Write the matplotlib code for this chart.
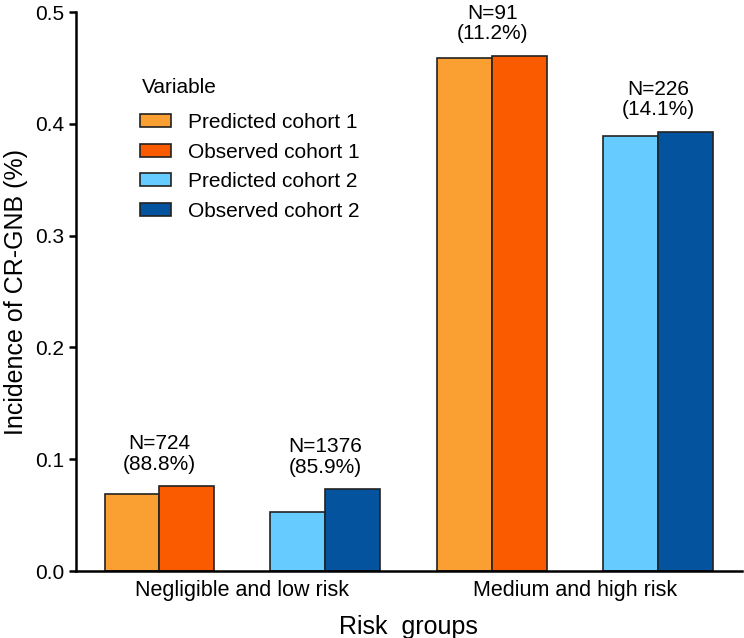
import matplotlib
matplotlib.use("Agg")
import matplotlib.pyplot as plt
import numpy as np

plt.rcParams['font.family'] = ['Liberation Sans', 'DejaVu Sans']

groups = ["Negligible and low risk", "Medium and high risk"]
series = ["Predicted cohort 1", "Observed cohort 1", "Predicted cohort 2", "Observed cohort 2"]
pred_c1 = [0.069, 0.459]
obs_c1 = [0.076, 0.461]
pred_c2 = [0.053, 0.389]
obs_c2 = [0.073, 0.393]
colors = ["#FA9F32", "#FA5A00", "#66CBFE", "#03539F"]
n_c1 = ["N=724\n(88.8%)", "N=91\n(11.2%)"]
n_c2 = ["N=1376\n(85.9%)", "N=226\n(14.1%)"]

fig = plt.figure(figsize=(7.44, 6.38), dpi=100)
ax = fig.add_axes([0.102, 0.105, 0.895, 0.876])

x = np.arange(len(groups))
w = 0.165
off = 0.249
vals = [pred_c1, obs_c1, pred_c2, obs_c2]
shifts = [-off - w/2, -off + w/2, off - w/2, off + w/2]
for v, s, c, lab in zip(vals, shifts, colors, series):
    ax.bar(x + s, v, width=w, color=c, edgecolor="#222222", linewidth=1.2, label=lab, zorder=2)

for i in range(len(groups)):
    top1 = max(pred_c1[i], obs_c1[i])
    ax.annotate(n_c1[i], (x[i] - off, top1), xytext=(0, 9), textcoords="offset points",
                ha="center", va="bottom", fontsize=15, linespacing=1.1, annotation_clip=False)
    top2 = max(pred_c2[i], obs_c2[i])
    ax.annotate(n_c2[i], (x[i] + off, top2), xytext=(0, 9), textcoords="offset points",
                ha="center", va="bottom", fontsize=15, linespacing=1.1, annotation_clip=False)

ax.set_xlim(-0.5, 1.5)
ax.set_ylim(0, 0.5)
ax.set_yticks([0.0, 0.1, 0.2, 0.3, 0.4, 0.5])
ax.set_yticklabels(["0.0", "0.1", "0.2", "0.3", "0.4", "0.5"])
ax.set_xticks(x)
ax.set_xticklabels(groups)
ax.tick_params(axis="x", length=0, pad=6.5, labelsize=15.5)
ax.tick_params(axis="y", length=5, width=1.8, labelsize=15, pad=3.5)
ax.set_ylabel("Incidence of CR-GNB (%)", fontsize=18, labelpad=5)
ax.set_xlabel("Risk  groups", fontsize=18, va="baseline")
ax.xaxis.set_label_coords(0.5, -0.112)
for sp in ["top", "right"]:
    ax.spines[sp].set_visible(False)
for sp in ["left", "bottom"]:
    ax.spines[sp].set_linewidth(1.8)

ax.text(0.099, 0.855, "Variable", transform=ax.transAxes, fontsize=15, ha="left", va="baseline")
leg = ax.legend(loc="upper left", bbox_to_anchor=(0.096, 0.819), borderaxespad=0, borderpad=0,
                frameon=False, fontsize=15,
                handlelength=1.5, handleheight=0.58, handletextpad=0.8, labelspacing=0.5)

fig.savefig("out.png", dpi=100)
